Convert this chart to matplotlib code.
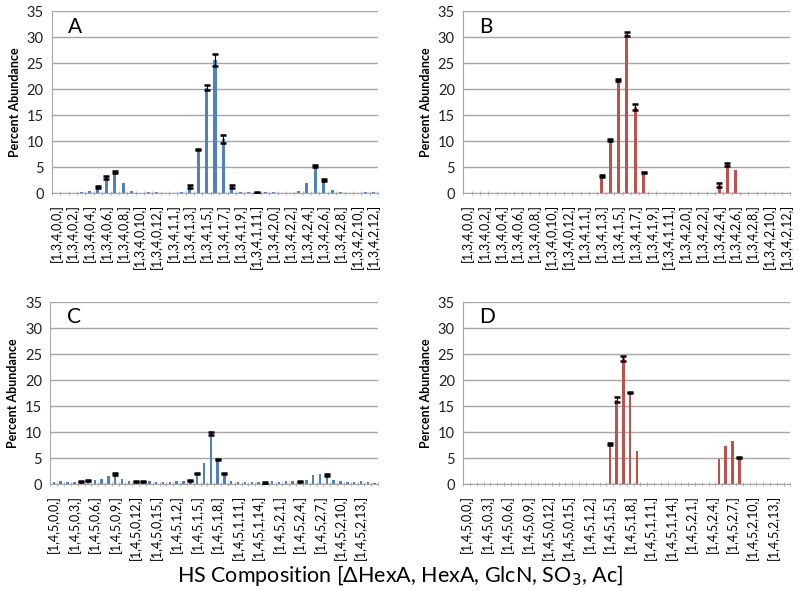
import numpy as np
import matplotlib
matplotlib.use('Agg')
import matplotlib.pyplot as plt

plt.rcParams['font.family'] = ['Lato', 'DejaVu Sans']

# categories : [dHexA, HexA, GlcN, SO3, Ac]
cats_34 = ['[1,3,4,%d,%d,]' % (s, a) for s in range(3) for a in range(13)]
cats_45 = ['[1,4,5,%d,%d,]' % (s, a) for s in range(3) for a in range(16)]

# panel A (blue, 1,3,4)
a_val = [0.05, 0.1, 0.1, 0.15, 0.4, 1.2, 3.1, 4.1, 2.0, 0.4, 0.1, 0.3, 0.3,
         0.1, 0.1, 0.3, 1.3, 8.4, 20.3, 25.6, 10.4, 1.3, 0.2, 0.3, 0.15, 0.3,
         0.15, 0.1, 0.1, 0.5, 2.0, 5.2, 2.5, 0.7, 0.2, 0.1, 0.1, 0.3, 0.3]
a_err = [0, 0, 0, 0, 0, 0.2, 0.3, 0.15, 0, 0, 0, 0, 0,
         0, 0, 0, 0.2, 0.15, 0.5, 1.1, 0.8, 0.2, 0, 0, 0.1, 0,
         0, 0, 0, 0, 0, 0.15, 0.2, 0, 0, 0, 0, 0, 0]

# panel B (red, 1,3,4)
b_val = [0] * 16 + [3.3, 10.2, 21.8, 30.6, 16.6, 4.0] + [0] * 8 + [1.6, 5.6, 4.4] + [0] * 6
b_err = [0] * 16 + [0.2, 0.15, 0.2, 0.4, 0.6, 0.1] + [0] * 8 + [0.4, 0.3, 0] + [0] * 6

# panel C (blue, 1,4,5)
c_val = [0.4, 0.5, 0.4, 0.4, 0.4, 0.6, 0.8, 0.9, 1.5, 2.0, 0.9, 0.5, 0.4, 0.4, 0.5, 0.3,
         0.3, 0.4, 0.5, 0.6, 0.6, 2.0, 4.0, 9.8, 4.8, 2.1, 0.5, 0.3, 0.4, 0.4, 0.4, 0.2,
         0.5, 0.4, 0.5, 0.5, 0.4, 0.8, 1.8, 2.0, 1.7, 0.8, 0.6, 0.4, 0.4, 0.5, 0.3, 0.2]
c_err = [0, 0, 0, 0, 0.1, 0.1, 0, 0, 0, 0.2, 0, 0, 0.1, 0.1, 0, 0,
         0, 0, 0, 0, 0.1, 0.1, 0, 0.3, 0.1, 0.1, 0, 0, 0, 0, 0, 0.1,
         0, 0, 0, 0, 0.1, 0, 0, 0, 0.2, 0, 0, 0, 0, 0, 0, 0]

# panel D (red, 1,4,5)
d_val = [0] * 21 + [7.7, 16.2, 24.2, 17.6, 6.3] + [0] * 11 + [4.9, 7.4, 8.3, 5.1] + [0] * 7
d_err = [0] * 21 + [0.1, 0.5, 0.5, 0.1, 0] + [0] * 11 + [0, 0, 0, 0.1] + [0] * 7

blue = '#4F81BD'
red = '#C0504D'
grid_c = '#A6A6A6'

fig = plt.figure(figsize=(8, 5.91), dpi=100)

panels = [
    ('A', [0.065, 0.673, 0.4075, 0.308], cats_34, a_val, a_err, blue, 2),
    ('B', [0.579, 0.673, 0.409, 0.308], cats_34, b_val, b_err, red, 2),
    ('C', [0.063, 0.181, 0.4095, 0.308], cats_45, c_val, c_err, blue, 3),
    ('D', [0.579, 0.181, 0.409, 0.308], cats_45, d_val, d_err, red, 3),
]

for letter, rect, cats, val, err, col, step in panels:
    ax = fig.add_axes(rect)
    n = len(cats)
    x = np.arange(n)
    val = np.array(val, dtype=float)
    err = np.array(err, dtype=float)
    ax.bar(x, val, width=0.36, color=col, zorder=3)
    m = err > 0
    ax.errorbar(x[m], val[m], yerr=err[m], fmt='none', ecolor='black',
                elinewidth=0.8, capsize=2.5, capthick=1.8, zorder=4)
    ax.set_xlim(-0.5, n - 0.5)
    ax.set_ylim(0, 35)
    ax.set_yticks(range(0, 36, 5))
    ax.yaxis.grid(True, color=grid_c, linewidth=1)
    ax.set_axisbelow(True)
    for s in ['top', 'right']:
        ax.spines[s].set_visible(False)
    ax.spines['left'].set_color(grid_c)
    ax.spines['bottom'].set_color(grid_c)
    ax.tick_params(axis='y', length=0, labelsize=10.5, colors='#222222', pad=6)
    ax.set_xticks(x[::step])
    ax.set_xticklabels(cats[::step], rotation=90, fontsize=9)
    ax.set_xticks(np.arange(n + 1) - 0.5, minor=True)
    ax.tick_params(axis='x', which='major', length=0, pad=8)
    ax.tick_params(axis='x', which='minor', length=3, direction='inout', color=grid_c)
    ax.set_ylabel('Percent Abundance', fontsize=9, fontweight='bold', labelpad=4)
    ax.text(0.05, 0.97, letter, transform=ax.transAxes, fontsize=15,
            va='top', ha='left')

fig.text(0.5, 0.027, 'HS Composition [ΔHexA, HexA, GlcN, SO$_3$, Ac]',
         ha='center', va='center', fontsize=15.5)

fig.savefig('out.png', dpi=100)
